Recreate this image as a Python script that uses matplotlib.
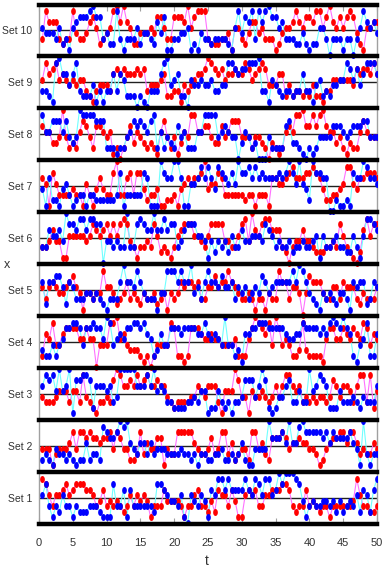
import numpy as np
import matplotlib
matplotlib.use("Agg")
import matplotlib.pyplot as plt
from matplotlib.path import Path
from matplotlib import font_manager as fm

# ---------------- data (vertical level 0..9 inside each panel, t = 0.5 .. 50) ----------------
set_labels = ["Set 1", "Set 2", "Set 3", "Set 4", "Set 5",
              "Set 6", "Set 7", "Set 8", "Set 9", "Set 10"]
x_ticks = [0, 5, 10, 15, 20, 25, 30, 35, 40, 45, 50]

red_set1 = "8753556756" "7776653463" "4343235354" "5413336444" "4313356332" "4265536411" "5656335566" "6776323363" "4323313333" "3348533223"
blue_set1 = "5731325331" "3222333211" "1733616333" "3332776544" "3510543541" "6588686666" "8658758856" "9799987413" "4334434242" "3435265268"
red_set2 = "4441344457" "4776766566" "7476442237" "3544661433" "7777754334" "6347735234" "4277453266" "6764556554" "4312456677" "5775343354"
blue_set2 = "2321433232" "1225233287" "6679895435" "5353444333" "3433231332" "2334223235" "2114444966" "6759558977" "7776757666" "6754193133"
red_set3 = "4333455535" "5384321334" "3798667686" "7866766432" "3333446546" "6631555974" "4154454346" "4688656343" "4344347646" "6536883825"
blue_set3 = "6878595691" "7788726665" "6349999966" "6869565332" "2223343551" "2253231334" "7774697212" "4467335339" "5687622253" "3343243336"
red_set4 = "2658446777" "7557550444" "8895643332" "1202444487" "2212777655" "6554444522" "2579876849" "7454223832" "2221577557" "6576587465"
blue_set4 = "3224245778" "8747787759" "8456577887" "8652364477" "7677776686" "5654944231" "6677888777" "7765566877" "7767689879" "7621458226"
red_set5 = "5356544567" "5414434485" "5423463432" "4334234143" "4656656335" "5756686543" "3431331433" "8663554047" "6664335536" "5553243335"
blue_set5 = "6266775265" "3334434321" "3336966586" "4333144888" "6866945368" "6657556354" "5345476456" "6666869864" "3214343244" "3165662365"
red_set6 = "3346441155" "5554576567" "5757874313" "3437523213" "5677755435" "7777443357" "8496578866" "6320344644" "3222334375" "3210268577"
blue_set6 = "3365564977" "6886887704" "4343393378" "7669668677" "3467775541" "4243425336" "4455547653" "4334233433" "4515334533" "2253158876"
red_set7 = "6517533334" "3315314643" "3793367377" "4233411223" "1456566794" "5576333333" "2331333166" "5567866677" "8764223345" "8854667776"
blue_set7 = "4162214531" "2331332222" "2237133333" "7611197669" "9611556868" "6487657597" "7868676666" "7679759542" "9776600211" "2176698665"
red_set8 = "6553349423" "2576426654" "5120246354" "3232157424" "1354885566" "4336457774" "4424432032" "1256588966" "8689655342" "1322575444"
blue_set8 = "8557775743" "4988887772" "2212245767" "6578252432" "6452225588" "8845654403" "5423000422" "2267332102" "1244446665" "4566677444"
red_set9 = "5867856545" "4553213444" "3676766676" "7344456223" "3143456679" "8767566766" "8756787444" "6624233232" "4221335555" "5547677686"
blue_set9 = "3321896646" "8322241313" "3636522202" "1033368945" "6220544544" "5334488767" "7888933154" "3233233633" "1452324455" "8757468886"
red_set10 = "3866632338" "4334675234" "5896965224" "4454775337" "7769578883" "2223341553" "2466453331" "2455686577" "6885796575" "7874215566"
blue_set10 = "5444352315" "6777897734" "2283133352" "4432647113" "3445121433" "2333321584" "7683868977" "5633322421" "2255303331" "3303586564"

red_sets = [red_set1, red_set2, red_set3, red_set4, red_set5,
            red_set6, red_set7, red_set8, red_set9, red_set10]
blue_sets = [blue_set1, blue_set2, blue_set3, blue_set4, blue_set5,
             blue_set6, blue_set7, blue_set8, blue_set9, blue_set10]

# ---------------- fonts ----------------
available = {f.name for f in fm.fontManager.ttflist}
font = "Liberation Sans"
for cand in ["Liberation Sans Narrow", "DejaVu Sans Condensed", "Liberation Sans"]:
    if cand in available:
        font = cand
        break
plt.rcParams["font.family"] = [font, "DejaVu Sans"]

# ---------------- figure ----------------
W, Hpx = 382, 572
fig = plt.figure(figsize=(W / 100, Hpx / 100), dpi=100)
left, right, top, bottom = 39, 377, 4.5, 524
ax = fig.add_axes([left / W, 1 - bottom / Hpx, (right - left) / W, (bottom - top) / Hpx])

PH = 9.4          # panel height in data units
MID = 4.5         # level of panel midline

theta = np.linspace(0, 2 * np.pi, 48)
ell = Path(np.column_stack([0.68 * np.cos(theta), np.sin(theta)]), closed=True)

centers = []
for i, (rs, bs) in enumerate(zip(red_sets, blue_sets)):
    base = i * PH + PH / 2
    centers.append(base)
    r = np.array([int(c) for c in rs], dtype=float)
    b = np.array([int(c) for c in bs], dtype=float)
    tr = 0.5 + 0.5 * np.arange(len(r))
    tb = 0.5 + 0.5 * np.arange(len(b))
    yr = base + (r - MID)
    yb = base + (b - MID)
    ax.axhline(base, color="#202020", lw=1.0, zorder=1)
    ax.plot(tr, yr, color="#ff70ff", lw=0.8, zorder=2)
    ax.plot(tb, yb, color="#70ffff", lw=0.8, zorder=2)
    ax.plot(tr, yr, ls="none", marker=ell, ms=5.0, color="#ff0000", mec="#ff0000", mew=0, zorder=3)
    ax.plot(tb, yb, ls="none", marker=ell, ms=5.0, color="#0000ff", mec="#0000ff", mew=0, zorder=4)

for k in range(11):
    ax.axhline(k * PH, color="black", lw=3.2, zorder=6, clip_on=False)

ax.set_xlim(0, 50)
ax.set_ylim(0, 10 * PH)

ax.set_xticks(x_ticks)
ax.set_xticklabels([str(v) for v in x_ticks])
ax.tick_params(axis="x", direction="in", length=4, width=0.8, color="#a0a0a0",
               top=True, bottom=True, labelsize=8, labelcolor="#333333", pad=10)
ax.set_yticks(centers)
ax.set_yticklabels(set_labels)
ax.tick_params(axis="y", length=0, labelsize=7.5, labelcolor="#333333", pad=5)

for s in ["left", "right"]:
    ax.spines[s].set_color("#a0a0a0")
    ax.spines[s].set_linewidth(1.0)
for s in ["top", "bottom"]:
    ax.spines[s].set_visible(False)

fig.text(207 / W, 1 - 561 / Hpx, "t", ha="center", va="center", fontsize=10, color="#333333")
fig.text(7 / W, 1 - 265 / Hpx, "x", ha="center", va="center", fontsize=9, color="#333333")

fig.savefig("out.png", dpi=100)
